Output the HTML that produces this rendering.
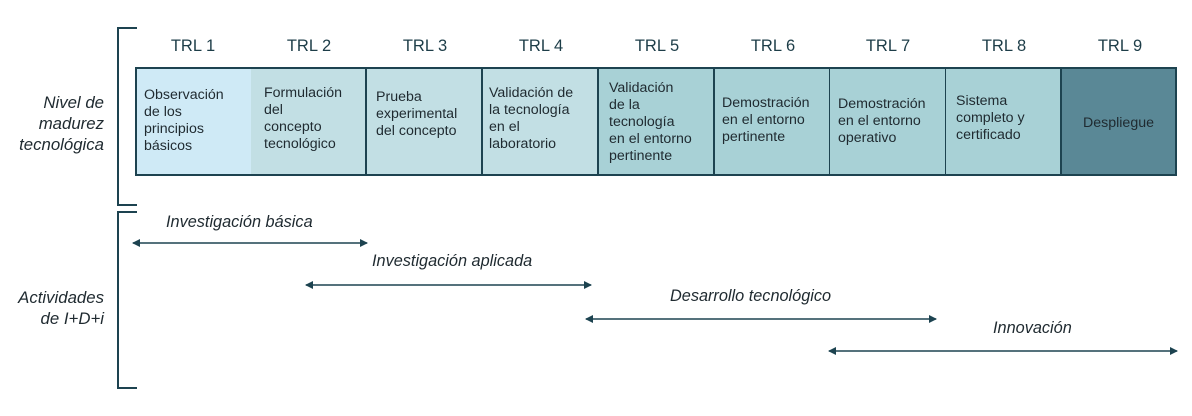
<!DOCTYPE html>
<html><head><meta charset="utf-8"><style>
body{margin:0;width:1192px;height:416px;background:#fff;position:relative;font-family:"Liberation Sans",sans-serif;color:#1f2a30;overflow:hidden}
.h{position:absolute;top:37px;width:116px;text-align:center;font-size:16.5px;color:#1d3d48}
.b{position:absolute;top:67px;height:105px;border:2px solid #1d4350;box-sizing:content-box;font-size:14.2px;line-height:17px;padding:0 5px;white-space:nowrap}
.i{position:absolute;font-style:italic;font-size:16.3px;color:#1f2a30;white-space:nowrap}
</style></head><body>
<div style="position:absolute;left:117px;top:27px;width:18px;height:175px;border:2px solid #1d4350;border-right:none"></div>
<div style="position:absolute;left:117px;top:211px;width:18px;height:174px;border:2px solid #1d4350;border-right:none"></div>
<div class="i" style="left:0;width:104px;top:92px;text-align:right;line-height:21px;font-size:16.8px">Nivel de<br>madurez<br>tecnológica</div>
<div class="i" style="left:0;width:104px;top:287px;text-align:right;line-height:21px;font-size:16.8px">Actividades<br>de I+D+i</div>

<div class="h" style="left:135px">TRL 1</div>
<div class="h" style="left:251px">TRL 2</div>
<div class="h" style="left:367px">TRL 3</div>
<div class="h" style="left:483px">TRL 4</div>
<div class="h" style="left:599px">TRL 5</div>
<div class="h" style="left:715px">TRL 6</div>
<div class="h" style="left:830px">TRL 7</div>
<div class="h" style="left:946px">TRL 8</div>
<div class="h" style="left:1062px">TRL 9</div>

<div class="b" style="left:135px;width:104px;background:#cfeaf6"><div style="padding-top:18px;padding-left:2px">Observación<br>de los<br>principios<br>básicos</div></div>
<div class="b" style="left:251px;width:104px;background:#c2dfe4;border-left:none"><div style="padding-top:16px;padding-left:8px">Formulación<br>del<br>concepto<br>tecnológico</div></div>
<div class="b" style="left:367px;width:104px;background:#c2dfe4;border-left:none"><div style="padding-top:20px;padding-left:4px">Prueba<br>experimental<br>del concepto</div></div>
<div class="b" style="left:483px;width:104px;background:#c2dfe4;border-left:none"><div style="padding-top:16px;padding-left:1px">Validación de<br>la tecnología<br>en el<br>laboratorio</div></div>
<div class="b" style="left:599px;width:104px;background:#a8d1d6;border-left:none"><div style="padding-top:11px;padding-left:5px">Validación<br>de la<br>tecnología<br>en el entorno<br>pertinente</div></div>
<div class="b" style="left:715px;width:104px;background:#a8d1d6;border-left:none"><div style="padding-top:26px;padding-left:2px">Demostración<br>en el entorno<br>pertinente</div></div>
<div class="b" style="left:830px;width:105px;background:#a8d1d6;border-left:none"><div style="padding-top:27px;padding-left:3px">Demostración<br>en el entorno<br>operativo</div></div>
<div class="b" style="left:946px;width:104px;background:#a8d1d6;border-left:none"><div style="padding-top:24px;padding-left:5px">Sistema<br>completo y<br>certificado</div></div>
<div class="b" style="left:1062px;width:103px;background:#5a8896;border-left:none"><div style="padding-top:46px;text-align:center">Despliegue</div></div>

<div class="i" style="left:166px;top:213px">Investigación básica</div>
<div class="i" style="left:372px;top:252px">Investigación aplicada</div>
<div class="i" style="left:670px;top:287px">Desarrollo tecnológico</div>
<div class="i" style="left:993px;top:319px">Innovación</div>

<svg width="1192" height="416" style="position:absolute;left:0;top:0">
<defs><marker id="a" markerWidth="8" markerHeight="8" refX="7" refY="4" orient="auto-start-reverse" markerUnits="userSpaceOnUse"><path d="M0,0 L8,4 L0,8 z" fill="#1d4350"/></marker></defs>
<g stroke="#1d4350" stroke-width="1.6" marker-start="url(#a)" marker-end="url(#a)">
<line x1="133" y1="243" x2="367" y2="243"/>
<line x1="306" y1="285" x2="591" y2="285"/>
<line x1="586" y1="319" x2="936" y2="319"/>
<line x1="829" y1="351" x2="1177" y2="351"/>
</g></svg>
</body></html>
